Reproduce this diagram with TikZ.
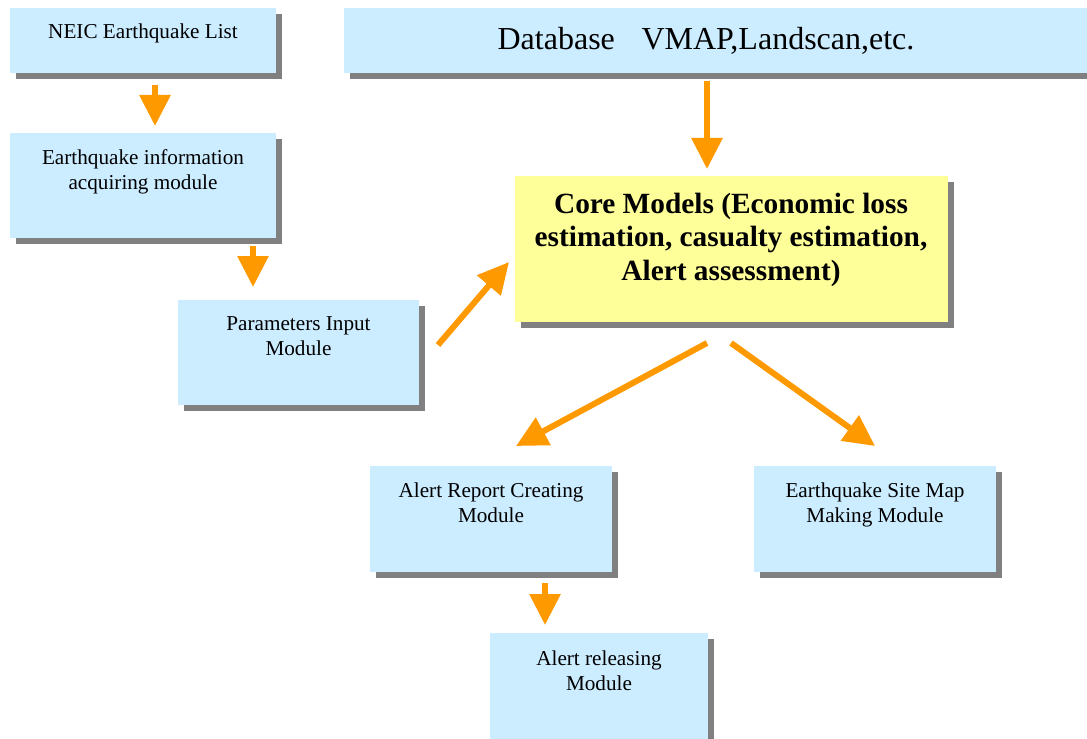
\documentclass[tikz,border=0pt]{standalone}
\usepackage{fontspec}
\setmainfont{Liberation Serif}
\usetikzlibrary{arrows.meta,shadows}
\definecolor{boxblue}{HTML}{CCECFF}
\definecolor{boxyellow}{HTML}{FFFF99}
\definecolor{arrorange}{HTML}{FF9900}
\definecolor{shadowgray}{HTML}{808080}
\tikzset{
  modbox/.style={rectangle, inner sep=0pt, draw=none,
    drop shadow={shadow xshift=4.5pt, shadow yshift=-4.5pt, opacity=1, fill=shadowgray}},
  bluebox/.style={modbox, fill=boxblue},
  yellowbox/.style={modbox, fill=boxyellow},
  modtext/.style={inner sep=0pt, align=center, anchor=north,
    font=\fontsize{15.9}{18.75}\selectfont},
  coretext/.style={inner sep=0pt, align=center, anchor=north,
    font=\fontsize{22}{25}\selectfont\bfseries},
  arr/.style={draw=arrorange, line width=4.5pt,
    -{Triangle[width=22.5pt,length=23.25pt]}, arrorange}
}
\begin{document}
\begin{tikzpicture}[x=0.75pt,y=-0.75pt]
\useasboundingbox (0,0) rectangle (1087,738);
\clip (0,0) rectangle (1087,738);
% boxes
\node[bluebox, minimum width=199.5pt, minimum height=48.75pt] (neic) at (143,40.5) {};
\node[bluebox, minimum width=567pt, minimum height=48.75pt] (db) at (722,40.5) {};
\node[bluebox, minimum width=199.5pt, minimum height=78.75pt] (info) at (143,185.5) {};
\node[bluebox, minimum width=180.75pt, minimum height=78.75pt] (params) at (298.5,352.5) {};
\node[yellowbox, minimum width=324.75pt, minimum height=109.5pt] (core) at (731.5,249) {};
\node[bluebox, minimum width=181.5pt, minimum height=79.5pt] (report) at (491,519) {};
\node[bluebox, minimum width=181.5pt, minimum height=79.5pt] (sitemap) at (875,519) {};
\node[bluebox, minimum width=163.5pt, minimum height=87.75pt] (release) at (599,691.5) {};
% texts
\node[inner sep=0pt, anchor=base, font=\fontsize{15.9}{18.75}\selectfont] (neict) at (143,39) {NEIC Earthquake List};
\node[inner sep=0pt, anchor=base, font=\fontsize{24}{28}\selectfont] (dbt) at (706,50) {Database\hspace{20pt}VMAP,Landscan,etc.};
\node[modtext] (infot) at (143,149.5) {Earthquake information\\acquiring module};
\node[modtext] (paramst) at (298.5,316.5) {Parameters Input\\Module};
\node[coretext] (coret) at (731,193) {Core Models (Economic loss\\estimation, casualty estimation,\\Alert assessment)};
\node[modtext] (reportt) at (491,482.5) {Alert Report Creating\\Module};
\node[modtext] (sitemapt) at (875,482.5) {Earthquake Site Map\\Making Module};
\node[modtext] (releaset) at (599,650.5) {Alert releasing\\Module};
% arrow end points
\coordinate (a1s) at (155,85);  \coordinate (a1e) at (155,126);
\coordinate (a2s) at (253,246); \coordinate (a2e) at (253,287);
\coordinate (a3s) at (438,345); \coordinate (a3e) at (509,262);
\coordinate (a4s) at (707,81);  \coordinate (a4e) at (707,169);
\coordinate (a5s) at (707,343); \coordinate (a5e) at (516,446);
\coordinate (a6s) at (731,343); \coordinate (a6e) at (875,446);
\coordinate (a7s) at (545,583); \coordinate (a7e) at (545,625);
\draw[arr] (a1s) -- (a1e);
\draw[arr] (a2s) -- (a2e);
\draw[arr] (a3s) -- (a3e);
\draw[arr] (a4s) -- (a4e);
\draw[arr] (a5s) -- (a5e);
\draw[arr] (a6s) -- (a6e);
\draw[arr] (a7s) -- (a7e);
\end{tikzpicture}
\end{document}
